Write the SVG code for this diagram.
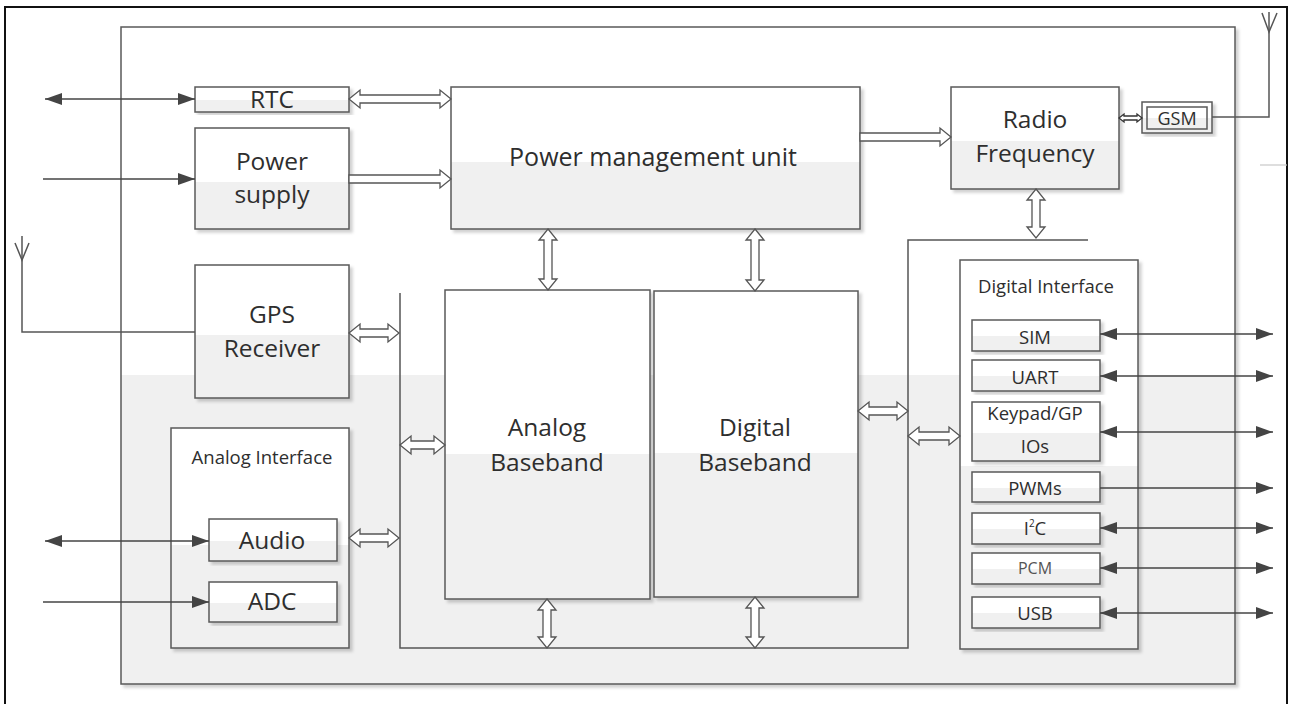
<svg xmlns="http://www.w3.org/2000/svg" width="1289" height="704" viewBox="0 0 1289 704">
  <defs>
    <linearGradient id="twoTone" x1="0" y1="0" x2="0" y2="1">
      <stop offset="0" stop-color="#ffffff"/>
      <stop offset="0.53" stop-color="#ffffff"/>
      <stop offset="0.53" stop-color="#f0f0f0"/>
      <stop offset="1" stop-color="#f0f0f0"/>
    </linearGradient>
    <filter id="shadow" x="-5%" y="-5%" width="115%" height="115%">
      <feDropShadow dx="3" dy="3" stdDeviation="1.5" flood-color="#000" flood-opacity="0.18"/>
    </filter>
    <marker id="head" markerUnits="userSpaceOnUse" markerWidth="18" markerHeight="12" refX="17" refY="6" orient="auto-start-reverse">
      <path d="M0,0 L17,6 L0,12 Z" fill="#444"/>
    </marker>
    <style>
      .box { fill: url(#twoTone); stroke: #5a5a5a; stroke-width: 1.5; filter: url(#shadow); }
      .inner { fill: none; stroke: #5a5a5a; stroke-width: 1.5; }
      .lbl { font-family: "Open Sans", "Liberation Sans", sans-serif; fill: #2e2e2e; text-anchor: middle; }
      .big { font-size: 24.5px; }
      .small { font-size: 18.5px; }
      .bus { fill: none; stroke: #555; stroke-width: 1.5; }
      .sig { fill: none; stroke: #444; stroke-width: 1.4; }
      .hollow { fill: #fff; stroke: #555; stroke-width: 1.3; stroke-linejoin: miter; }
    </style>
  </defs>

  <rect width="1289" height="704" fill="#fff"/>
  <!-- page border -->
  <rect x="5" y="7" width="1282" height="710" fill="none" stroke="#111" stroke-width="2"/>

  <!-- module outline -->
  <g id="module">
    <rect class="box" x="121" y="27" width="1114" height="657"/>
    <line x1="1260" y1="165" x2="1287" y2="165" stroke="#c8c8c8" stroke-width="1.2"/>
  </g>

  <g id="rtc">
    <rect class="box" x="195" y="87" width="154" height="25"/>
    <text class="lbl big" x="272" y="108">RTC</text>
  </g>
  <g id="power-supply">
    <rect class="box" x="195" y="128" width="154" height="101"/>
    <text class="lbl big" x="272" y="170">Power</text>
    <text class="lbl big" x="272" y="203">supply</text>
  </g>
  <g id="pmu">
    <rect class="box" x="451" y="87" width="409" height="142"/>
    <text class="lbl" style="font-size:25px" x="653" y="166">Power management unit</text>
  </g>
  <g id="radio-frequency">
    <rect class="box" x="951" y="87" width="168" height="102"/>
    <text class="lbl big" x="1035" y="128">Radio</text>
    <text class="lbl big" x="1035" y="162">Frequency</text>
  </g>
  <g id="gsm">
    <rect class="box" x="1142" y="102" width="70" height="31"/>
    <rect class="inner" x="1147" y="107" width="60" height="22"/>
    <text class="lbl" style="font-size:18px" x="1177" y="125">GSM</text>
  </g>
  <g id="gps-receiver">
    <rect class="box" x="195" y="265" width="154" height="133"/>
    <text class="lbl big" x="272" y="323">GPS</text>
    <text class="lbl big" x="272" y="357">Receiver</text>
  </g>
  <g id="analog-interface">
    <rect class="box" x="171" y="428" width="178" height="220"/>
    <text class="lbl small" x="262" y="464">Analog Interface</text>
  </g>
  <g id="audio">
    <rect class="box" x="209" y="519" width="128" height="42"/>
    <text class="lbl big" x="272" y="549">Audio</text>
  </g>
  <g id="adc">
    <rect class="box" x="209" y="582" width="128" height="40"/>
    <text class="lbl big" x="272" y="610">ADC</text>
  </g>
  <g id="analog-baseband">
    <rect class="box" x="445" y="290" width="205" height="309"/>
    <text class="lbl big" x="547" y="436">Analog</text>
    <text class="lbl big" x="547" y="471">Baseband</text>
  </g>
  <g id="digital-baseband">
    <rect class="box" x="654" y="291" width="204" height="306"/>
    <text class="lbl big" x="755" y="436">Digital</text>
    <text class="lbl big" x="755" y="471">Baseband</text>
  </g>
  <g id="digital-interface">
    <rect class="box" x="960" y="260" width="178" height="389"/>
    <text class="lbl small" x="1046" y="293">Digital Interface</text>
  </g>
  <g id="sim">
    <rect class="box" x="972" y="320" width="128" height="31"/>
    <text class="lbl small" x="1035" y="344">SIM</text>
  </g>
  <g id="uart">
    <rect class="box" x="972" y="360" width="128" height="31"/>
    <text class="lbl small" x="1035" y="384">UART</text>
  </g>
  <g id="keypad-gpio">
    <rect class="box" x="972" y="402" width="128" height="59"/>
    <text class="lbl small" x="1035" y="420">Keypad/GP</text>
    <text class="lbl small" x="1035" y="453">IOs</text>
  </g>
  <g id="pwms">
    <rect class="box" x="972" y="472" width="128" height="30"/>
    <text class="lbl small" x="1035" y="495">PWMs</text>
  </g>
  <g id="i2c">
    <rect class="box" x="972" y="513" width="128" height="31"/>
    <text class="lbl small" x="1035" y="535">I<tspan dy="-8" style="font-size:10px">2</tspan><tspan dy="8">C</tspan></text>
  </g>
  <g id="pcm">
    <rect class="box" x="972" y="553" width="128" height="31"/>
    <text class="lbl" style="font-size:16px;fill:#555" x="1035" y="574">PCM</text>
  </g>
  <g id="usb">
    <rect class="box" x="972" y="597" width="128" height="31"/>
    <text class="lbl small" x="1035" y="620">USB</text>
  </g>

  <g id="connectors">
    <!-- internal bus -->
    <path class="bus" d="M400,293 L400,648 L908,648 L908,240 L1088,240"/>

    <!-- antennas -->
    <path class="bus" d="M22,236 L22,332 L195,332"/>
    <path class="bus" d="M15,243 L22,260 L29,243"/>
    <path class="bus" d="M1212,117 L1269,117 L1269,12"/>
    <path class="bus" d="M1262,13 L1269,32 L1277,13"/>

    <!-- external signal lines -->
    <line class="sig" x1="45" y1="99" x2="195" y2="99" marker-start="url(#head)" marker-end="url(#head)"/>
    <line class="sig" x1="43" y1="179" x2="195" y2="179" marker-end="url(#head)"/>
    <line class="sig" x1="45" y1="541" x2="209" y2="541" marker-start="url(#head)" marker-end="url(#head)"/>
    <line class="sig" x1="43" y1="602" x2="209" y2="602" marker-end="url(#head)"/>
    <line class="sig" x1="1100" y1="334" x2="1273" y2="334" marker-start="url(#head)" marker-end="url(#head)"/>
    <line class="sig" x1="1100" y1="376" x2="1273" y2="376" marker-start="url(#head)" marker-end="url(#head)"/>
    <line class="sig" x1="1100" y1="432" x2="1273" y2="432" marker-start="url(#head)" marker-end="url(#head)"/>
    <line class="sig" x1="1100" y1="488" x2="1273" y2="488" marker-end="url(#head)"/>
    <line class="sig" x1="1100" y1="528" x2="1273" y2="528" marker-start="url(#head)" marker-end="url(#head)"/>
    <line class="sig" x1="1100" y1="568" x2="1273" y2="568" marker-start="url(#head)" marker-end="url(#head)"/>
    <line class="sig" x1="1100" y1="613" x2="1273" y2="613" marker-start="url(#head)" marker-end="url(#head)"/>

    <!-- wide (hollow) data paths -->
    <path class="hollow" d="M349,99 L360,90 L360,95 L440,95 L440,90 L451,99 L440,108 L440,103 L360,103 L360,108 Z"/>
    <path class="hollow" d="M349,175 L440,175 L440,170 L451,179 L440,188 L440,183 L349,183 Z"/>
    <path class="hollow" d="M860,133 L940,133 L940,128 L951,137 L940,146 L940,141 L860,141 Z"/>
    <path class="hollow" d="M548,229 L557,240 L552,240 L552,279 L557,279 L548,290 L539,279 L544,279 L544,240 L539,240 Z"/>
    <path class="hollow" d="M755,229 L764,240 L759,240 L759,280 L764,280 L755,291 L746,280 L751,280 L751,240 L746,240 Z"/>
    <path class="hollow" d="M1036,189 L1045,200 L1040,200 L1040,227 L1045,227 L1036,238 L1027,227 L1032,227 L1032,200 L1027,200 Z"/>
    <path class="hollow" d="M349,333 L360,324 L360,329 L388,329 L388,324 L399,333 L388,342 L388,337 L360,337 L360,342 Z"/>
    <path class="hollow" d="M400,445 L411,436 L411,441 L434,441 L434,436 L445,445 L434,454 L434,449 L411,449 L411,454 Z"/>
    <path class="hollow" d="M349,538 L360,529 L360,534 L388,534 L388,529 L399,538 L388,547 L388,542 L360,542 L360,547 Z"/>
    <path class="hollow" d="M547,599 L556,610 L551,610 L551,637 L556,637 L547,648 L538,637 L543,637 L543,610 L538,610 Z"/>
    <path class="hollow" d="M755,597 L764,608 L759,608 L759,637 L764,637 L755,648 L746,637 L751,637 L751,608 L746,608 Z"/>
    <path class="hollow" d="M858,411 L869,402 L869,407 L897,407 L897,402 L908,411 L897,420 L897,415 L869,415 L869,420 Z"/>
    <path class="hollow" d="M908,436 L919,427 L919,432 L949,432 L949,427 L960,436 L949,445 L949,440 L919,440 L919,445 Z"/>
    <path class="hollow" style="stroke:#333" d="M1119,118 L1124,114 L1124,116 L1137,116 L1137,114 L1142,118 L1137,122 L1137,120 L1124,120 L1124,122 Z"/>
  </g>
</svg>
